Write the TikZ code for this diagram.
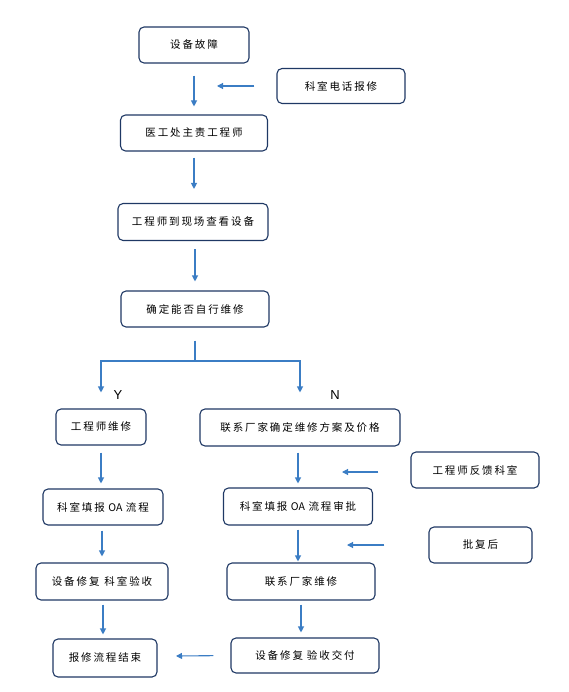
\documentclass[tikz,border=0pt]{standalone}
\usepackage{fontspec}
\usepackage{xcolor}
\usetikzlibrary{arrows.meta}
\newfontfamily\cjk[LetterSpace=18]{Noto Sans CJK SC}
\newfontfamily\cjktight{Noto Sans CJK SC}
\setsansfont{Liberation Sans}
\definecolor{boxline}{HTML}{1F3864}
\definecolor{flowblue}{HTML}{3B7DC4}
\newcommand{\oatext}{\hspace{3.5pt}{\cjktight\fontsize{10.5pt}{12pt}\selectfont OA}\hspace{3.5pt}}

\begin{document}
\begin{tikzpicture}[x=1pt, y=-1pt,
        box/.style={draw=boxline, line width=1.1pt, rounded corners=5pt, inner sep=0pt,
            font=\cjk\fontsize{10.5pt}{12pt}\selectfont},
        arr/.style={draw=flowblue, line width=1.1pt, -{Triangle[length=6pt,width=6pt]}},
        yn/.style={font=\sffamily\fontsize{13pt}{14pt}\selectfont}]
                \useasboundingbox (0,0) rectangle (568,692);

                \node[box, minimum width=110pt, minimum height=36pt] (fault) at (194,45) {设备故障};
                \node[box, minimum width=128pt, minimum height=35pt] (phone) at (341,86) {科室电话报修};
                \node[box, minimum width=147pt, minimum height=36pt] (chief) at (194,133) {医工处主责工程师};
                \node[box, minimum width=150pt, minimum height=37pt] (site) at (193,222) {工程师到现场查看设备};
                \node[box, minimum width=148pt, minimum height=36pt] (decide) at (195,309) {确定能否自行维修};
                \node[box, minimum width=90pt, minimum height=36pt] (self) at (101,427) {工程师维修};
                \node[box, minimum width=200pt, minimum height=37pt] (vendor) at (300,427.5) {联系厂家确定维修方案及价格};
                \node[box, minimum width=128pt, minimum height=36pt] (feedback) at (475,470) {工程师反馈科室};
                \node[box, minimum width=120pt, minimum height=36pt] (oa) at (103,507) {科室填报\oatext 流程};
                \node[box, minimum width=149pt, minimum height=37pt] (oaapp) at (298,506.5) {科室填报\oatext 流程审批};
                \node[box, minimum width=103pt, minimum height=36pt] (approve) at (480.5,545) {批复后};
                \node[box, minimum width=132pt, minimum height=37pt] (repair) at (102,581.5) {设备修复\hspace{5pt}科室验收};
                \node[box, minimum width=148pt, minimum height=37pt] (vendorfix) at (301,581.5) {联系厂家维修};
                \node[box, minimum width=104pt, minimum height=38pt] (finish) at (105,658) {报修流程结束};
                \node[box, minimum width=148pt, minimum height=35pt] (deliver) at (305,655.5) {设备修复\hspace{4pt}验收交付};

                \coordinate (phoneend) at (217,86);
                \coordinate (split) at (195,361);
                \coordinate (feedbackend) at (342,472);
                \coordinate (approveend) at (347,545);
                \coordinate (deliverend) at (176,656);

                \draw[arr, shorten <=12pt, shorten >=8pt] (fault.south) -- (fault.south |- chief.north);
                \draw[arr, shorten <=22pt] (phone.west) -- (phoneend);
                \draw[arr, shorten <=6pt, shorten >=14pt] (chief.south) -- (chief.south |- site.north);
                \draw[arr, shorten <=8pt, shorten >=9pt] (decide.south |- site.south) -- (decide.north);
                \draw[draw=flowblue, line width=1.1pt, shorten <=13pt] (decide.south) -- (split);
                \draw[arr, shorten >=16pt] (split) -| (self.north);
                \draw[arr, shorten >=16pt] (split) -| (vendor.north);
                \node[yn] (yes) at (118,395) {Y};
                \node[yn] (no) at (335,395) {N};

                \draw[arr, shorten <=7pt, shorten >=5pt] (self.south) -- (self.south |- oa.north);
                \draw[arr, shorten <=32pt] (feedback.west |- feedbackend) -- (feedbackend);
                \draw[arr, shorten <=6pt, shorten >=4pt] (oaapp.north |- vendor.south) -- (oaapp.north);
                \draw[arr, shorten <=5pt, shorten >=6pt] (repair.north |- oa.south) -- (repair.north);
                \draw[arr, shorten <=4pt, shorten >=1pt] (oaapp.south) -- (oaapp.south |- vendorfix.north);
                \draw[arr, shorten <=44pt] (approve.west) -- (approveend);
                \draw[arr, shorten <=4pt, shorten >=4pt] (repair.south -| 103,0) -- (finish.north -| 103,0);
                \draw[arr, shorten <=4pt, shorten >=5pt] (vendorfix.south) -- (vendorfix.south |- deliver.north);
                \draw[arr, shorten <=17pt] (deliver.west) -- (deliverend);
            \end{tikzpicture}
\end{document}
